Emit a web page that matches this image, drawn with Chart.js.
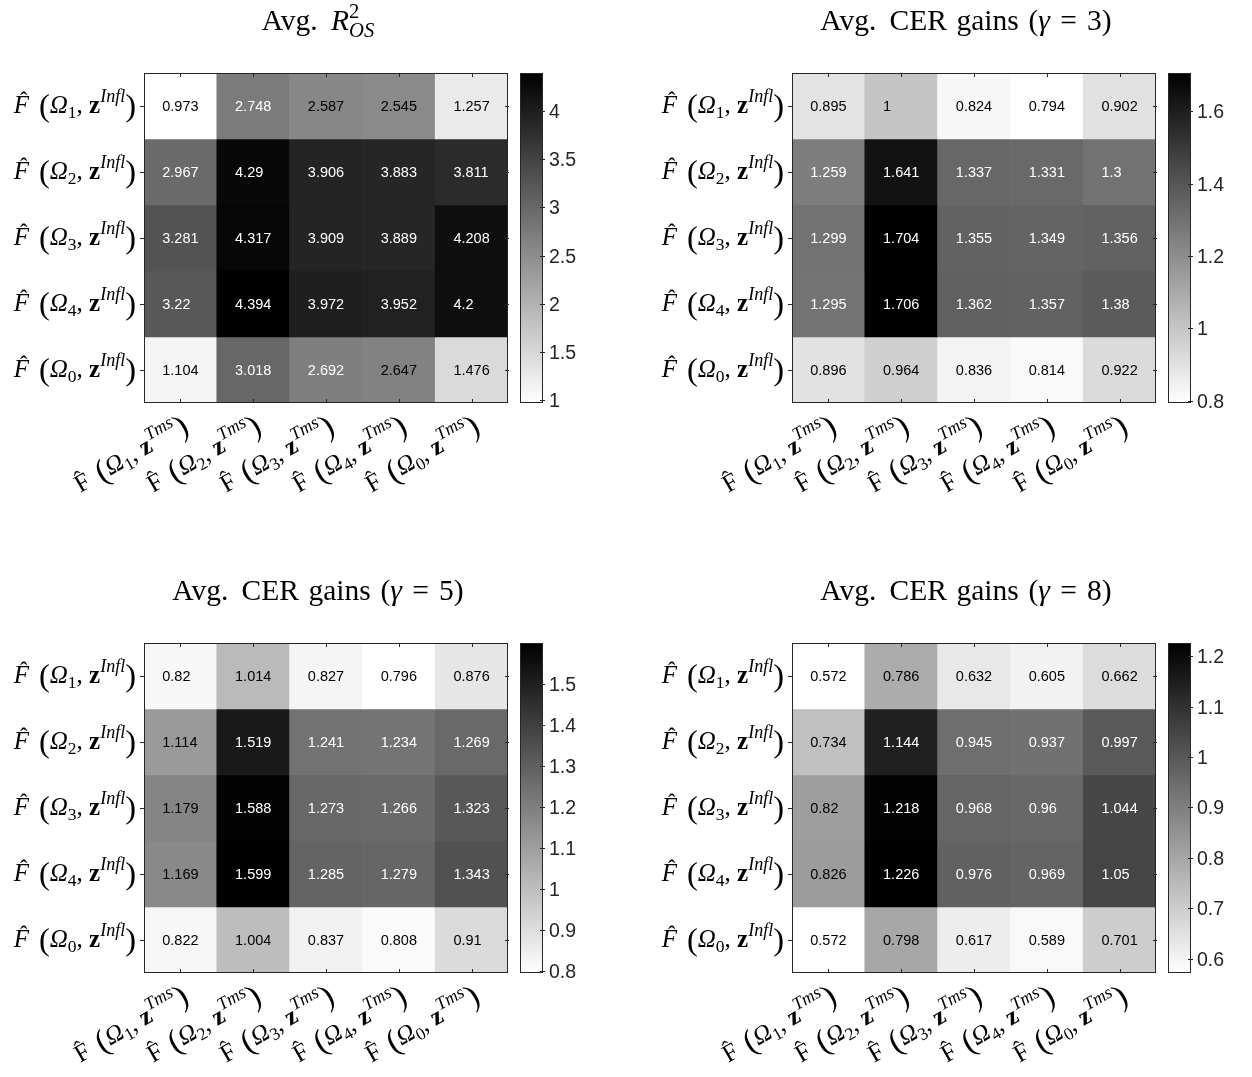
<!DOCTYPE html>
<html>
<head>
<meta charset="utf-8">
<script src="https://cdn.jsdelivr.net/npm/chart.js@4.4.0/dist/chart.umd.min.js"></script>
<style>
body { margin: 0; background: #fff; }
.panel { position: absolute; width: 604px; height: 507px; }
</style>
</head>
<body>
<div class="panel" style="left:0;top:0"><canvas id="r2" width="604" height="507"></canvas></div>
<div class="panel" style="left:648px;top:0"><canvas id="cer3" width="604" height="507"></canvas></div>
<div class="panel" style="left:0;top:570px"><canvas id="cer5" width="604" height="507"></canvas></div>
<div class="panel" style="left:648px;top:570px"><canvas id="cer8" width="604" height="507"></canvas></div>
<script>
// row / column model indices (Omega_1..Omega_4, Omega_0)
const rowIdx = ['1', '2', '3', '4', '0'];
const colIdx = ['1', '2', '3', '4', '0'];

const r2Values = [
    [0.973, 2.748, 2.587, 2.545, 1.257],
    [2.967, 4.29, 3.906, 3.883, 3.811],
    [3.281, 4.317, 3.909, 3.889, 4.208],
    [3.22, 4.394, 3.972, 3.952, 4.2],
    [1.104, 3.018, 2.692, 2.647, 1.476]
];
const cer3Values = [
    [0.895, 1, 0.824, 0.794, 0.902],
    [1.259, 1.641, 1.337, 1.331, 1.3],
    [1.299, 1.704, 1.355, 1.349, 1.356],
    [1.295, 1.706, 1.362, 1.357, 1.38],
    [0.896, 0.964, 0.836, 0.814, 0.922]
];
const cer5Values = [
    [0.82, 1.014, 0.827, 0.796, 0.876],
    [1.114, 1.519, 1.241, 1.234, 1.269],
    [1.179, 1.588, 1.273, 1.266, 1.323],
    [1.169, 1.599, 1.285, 1.279, 1.343],
    [0.822, 1.004, 0.837, 0.808, 0.91]
];
const cer8Values = [
    [0.572, 0.786, 0.632, 0.605, 0.662],
    [0.734, 1.144, 0.945, 0.937, 0.997],
    [0.82, 1.218, 0.968, 0.96, 1.044],
    [0.826, 1.226, 0.976, 0.969, 1.05],
    [0.572, 0.798, 0.617, 0.589, 0.701]
];

const r2Ticks = [1, 1.5, 2, 2.5, 3, 3.5, 4];
const cer3Ticks = [0.8, 1, 1.2, 1.4, 1.6];
const cer5Ticks = [0.8, 0.9, 1, 1.1, 1.2, 1.3, 1.4, 1.5];
const cer8Ticks = [0.6, 0.7, 0.8, 0.9, 1, 1.1, 1.2];

const SERIF = "'Liberation Serif', 'Times New Roman', serif";
const SANS = "'Liberation Sans', Arial, sans-serif";
const AXIS = '#262626';

function segFont(s, base) {
    let f = '';
    if (s.st === 'i') f += 'italic ';
    if (s.st === 'b') f += 'bold ';
    return f + (base * (s.k || 1)) + 'px ' + SERIF;
}

function richWidth(ctx, segs, base) {
    let w = 0;
    segs.forEach(s => {
        ctx.font = segFont(s, base);
        if (!s.back) w += ctx.measureText(s.t).width;
    });
    return w;
}

function drawRich(ctx, segs, x, y, base, align) {
    const w = richWidth(ctx, segs, base);
    let cx = align === 'right' ? x - w : align === 'center' ? x - w / 2 : x;
    ctx.textAlign = 'left';
    ctx.textBaseline = 'alphabetic';
    segs.forEach(s => {
        ctx.font = segFont(s, base);
        const sw = ctx.measureText(s.t).width;
        ctx.fillText(s.t, cx, y + (s.dy || 0) * base);
        if (s.hat) {
            ctx.font = (base * 0.9) + 'px ' + SERIF;
            ctx.textAlign = 'center';
            ctx.fillText('\u02C6', cx + sw / 2 + (s.st === 'i' ? base * 0.1 : 0), y - base * 0.22);
            ctx.textAlign = 'left';
        }
        if (!s.back) cx += sw;
    });
}

function rowLabel(i) {
    return [{t: 'F', st: 'i', hat: true}, {t: ' ', k: 1.6}, {t: '(', k: 1.3, dy: 0.1},
        {t: '\u03A9', st: 'i'}, {t: i, k: 0.7, dy: 0.2}, {t: ', '}, {t: 'z', st: 'b'},
        {t: 'Infl', st: 'i', k: 0.72, dy: -0.45}, {t: ')', k: 1.3, dy: 0.1}];
}

function colLabel(i) {
    return [{t: 'F', hat: true}, {t: ' ', k: 1.6}, {t: '(', k: 1.3, dy: 0.1},
        {t: '\u03A9', st: 'i'}, {t: i, k: 0.7, dy: 0.2}, {t: ', '}, {t: 'z', st: 'b'},
        {t: 'Tms', st: 'i', k: 0.72, dy: -0.45}, {t: ')', k: 1.3, dy: 0.1}];
}

const titleR2 = [{t: 'Avg.'}, {t: ' ', k: 1.8}, {t: 'R', st: 'i'},
    {t: '2', k: 0.7, dy: -0.4, back: true}, {t: 'OS', st: 'i', k: 0.7, dy: 0.25}];

function titleCER(g) {
    return [{t: 'Avg.'}, {t: ' ', k: 1.8}, {t: 'CER'}, {t: ' ', k: 1.3}, {t: 'gains'}, {t: ' ', k: 1.3},
        {t: '('}, {t: '\u03B3', st: 'i'}, {t: ' ', k: 1.4}, {t: '='}, {t: ' ', k: 1.4}, {t: g}, {t: ')'}];
}

function grayOf(v, min, max) {
    const g = Math.round(255 * (1 - (v - min) / (max - min)));
    return `rgb(${g},${g},${g})`;
}

const heatPlugin = {
    id: 'heat',
    afterDatasetsDraw(chart, args, opts) {
        const ctx = chart.ctx;
        const xs = chart.scales.x, ys = chart.scales.y;
        ctx.save();
        ctx.font = '14.5px ' + SANS;
        const half = ctx.measureText('0.000').width / 2;
        ctx.textAlign = 'left';
        ctx.textBaseline = 'middle';
        opts.values.forEach((row, r) => {
            row.forEach((v, c) => {
                const t = (v - opts.min) / (opts.max - opts.min);
                ctx.fillStyle = t > 0.5 ? '#fff' : '#000';
                ctx.fillText(String(v), xs.getPixelForValue(c) - half, ys.getPixelForValue(r + 0.5) + 1);
            });
        });
        ctx.restore();
    },
    afterDraw(chart, args, opts) {
        const ctx = chart.ctx;
        const a = chart.chartArea;
        const xs = chart.scales.x, ys = chart.scales.y, cb = chart.scales.cb;
        ctx.save();
        // box and ticks
        ctx.strokeStyle = AXIS;
        ctx.lineWidth = 1;
        ctx.strokeRect(a.left + 0.5, a.top + 0.5, a.right - a.left - 1, a.bottom - a.top - 1);
        ctx.beginPath();
        rowIdx.forEach((r, i) => {
            const y = Math.round(ys.getPixelForValue(i + 0.5)) + 0.5;
            ctx.moveTo(a.left - 4, y); ctx.lineTo(a.left, y);
            ctx.moveTo(a.right - 3, y); ctx.lineTo(a.right + 1, y);
        });
        colIdx.forEach((c, i) => {
            const x = Math.round(xs.getPixelForValue(i)) + 0.5;
            ctx.moveTo(x, a.top); ctx.lineTo(x, a.top + 4);
            ctx.moveTo(x, a.bottom); ctx.lineTo(x, a.bottom - 4);
        });
        ctx.stroke();

        // row labels
        ctx.fillStyle = '#000';
        rowIdx.forEach((r, i) => {
            drawRich(ctx, rowLabel(r), a.left - 8, ys.getPixelForValue(i + 0.5) + 7, 25, 'right');
        });
        // column labels, rotated
        colIdx.forEach((c, i) => {
            ctx.save();
            ctx.translate(xs.getPixelForValue(i) + 9, a.bottom + 27);
            ctx.rotate(-Math.PI / 6);
            drawRich(ctx, colLabel(c), 0, 0, 25, 'right');
            ctx.restore();
        });

        // colorbar
        const cl = a.right + 12, cr = a.right + 35;
        const top = cb.getPixelForValue(opts.max), bot = cb.getPixelForValue(opts.min);
        const grad = ctx.createLinearGradient(0, bot, 0, top);
        grad.addColorStop(0, '#fff');
        grad.addColorStop(1, '#000');
        ctx.fillStyle = grad;
        ctx.fillRect(cl, top, cr - cl, bot - top);
        ctx.strokeStyle = AXIS;
        ctx.strokeRect(cl + 0.5, top + 0.5, cr - cl - 1, bot - top - 1);
        ctx.beginPath();
        ctx.font = '19.5px ' + SANS;
        ctx.fillStyle = AXIS;
        ctx.textAlign = 'left';
        ctx.textBaseline = 'middle';
        opts.ticks.forEach(v => {
            const y = Math.round(cb.getPixelForValue(v)) + 0.5;
            ctx.moveTo(cr - 3, y); ctx.lineTo(cr + 2, y);
            ctx.fillText(String(v), cr + 6, y + 1);
        });
        ctx.stroke();

        // title
        ctx.fillStyle = '#000';
        drawRich(ctx, opts.title, (a.left + a.right) / 2 - 8, 30, 29.5, 'center');
        ctx.restore();
    }
};

function makeHeatmap(id, values, ticks, title) {
    const flat = values.flat();
    const min = Math.min(...flat), max = Math.max(...flat);
    const datasets = values.map((row, r) => ({
        data: row.map(() => [r, r + 1]),
        backgroundColor: row.map(v => grayOf(v, min, max)),
        borderWidth: 0,
        grouped: false,
        barPercentage: 1,
        categoryPercentage: 1
    }));
    const canvas = document.getElementById(id);
    new Chart(canvas.getContext('2d'), {
        type: 'bar',
        data: { labels: colIdx, datasets: datasets },
        options: {
            responsive: false,
            animation: false,
            events: [],
            layout: { padding: { left: 144, top: 73, right: 604 - 508, bottom: 507 - 403 } },
            plugins: {
                legend: { display: false },
                tooltip: { enabled: false },
                heat: { values: values, ticks: ticks, title: title, min: min, max: max }
            },
            scales: {
                x: { display: false },
                y: { display: false, min: 0, max: 5, reverse: true },
                cb: { type: 'linear', display: false, position: 'right', min: min, max: max }
            }
        },
        plugins: [heatPlugin]
    });
}

makeHeatmap('r2', r2Values, r2Ticks, titleR2);
makeHeatmap('cer3', cer3Values, cer3Ticks, titleCER('3'));
makeHeatmap('cer5', cer5Values, cer5Ticks, titleCER('5'));
makeHeatmap('cer8', cer8Values, cer8Ticks, titleCER('8'));
</script>
</body>
</html>
